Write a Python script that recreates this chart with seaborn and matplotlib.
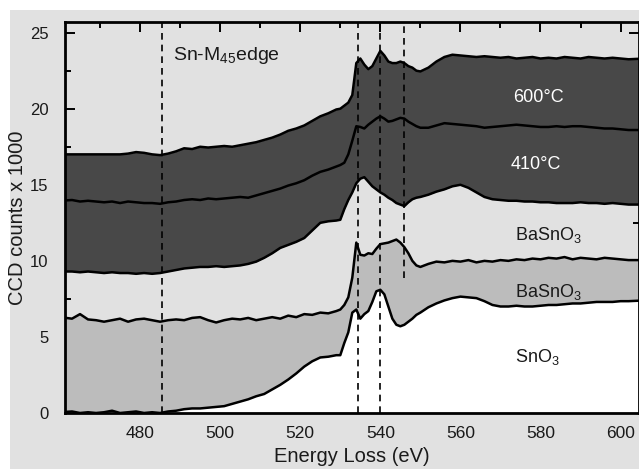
import matplotlib
matplotlib.use("Agg")
import matplotlib.pyplot as plt
import seaborn as sns
from matplotlib.patches import Rectangle
from matplotlib.ticker import MultipleLocator

# ---------------- data ----------------
energy = [460, 463, 465, 467, 469, 471, 473, 475, 477, 479, 481, 483, 485, 487, 489, 491,
          493, 495, 497, 499, 501, 503, 505, 507, 509, 511, 513, 515, 517, 519, 521, 523,
          525, 527, 529,
          530, 531, 532, 533, 534, 535, 536, 537, 538, 539, 540, 541, 542, 543, 544, 545,
          546, 547, 548, 549, 550,
          552, 554, 556, 558, 560, 562, 564, 566, 568, 570, 572, 574, 576, 578, 580, 582,
          584, 586, 588, 590, 592, 594, 596, 598, 600, 602, 606]

t600 = [17.0, 17.0, 17.0, 17.0, 17.0, 17.0, 17.0, 17.0, 17.05, 17.15, 17.1, 17.0, 16.95, 17.05,
        17.2, 17.4, 17.35, 17.5, 17.45, 17.5, 17.55, 17.5, 17.6, 17.7, 17.8, 17.95, 18.1, 18.3,
        18.55, 18.7, 18.9, 19.2, 19.5, 19.7, 19.95,
        20.0, 20.2, 20.4, 20.9, 23.0, 23.3, 22.9, 22.6, 22.8, 23.3, 23.8, 23.5, 23.1, 23.0,
        23.0, 23.1, 23.0, 22.8, 22.7, 22.5, 22.45,
        22.7, 23.1, 23.4, 23.55, 23.5, 23.45, 23.4, 23.45, 23.4, 23.35, 23.4, 23.3, 23.35,
        23.4, 23.3, 23.35, 23.3, 23.4, 23.35, 23.3, 23.4, 23.35, 23.3, 23.35, 23.3, 23.25, 23.3]

t410 = [13.95, 14.0, 13.9, 13.95, 13.9, 13.85, 13.9, 13.8, 13.9, 13.85, 13.8, 13.8, 13.75,
        13.85, 13.9, 14.0, 14.05, 14.0, 14.1, 14.05, 14.1, 14.15, 14.2, 14.15, 14.3, 14.45,
        14.6, 14.75, 14.95, 15.1, 15.3, 15.6, 15.85, 16.0, 16.2,
        16.3, 16.45, 17.0, 17.9, 18.85, 18.8, 18.7, 18.95, 19.15, 19.35, 19.5, 19.35, 19.15,
        19.2, 19.3, 19.4, 19.35, 19.15, 19.0, 18.85, 18.75,
        18.75, 18.9, 19.05, 19.0, 18.95, 18.9, 18.85, 18.75, 18.8, 18.85, 18.9, 18.95, 18.9,
        18.85, 18.8, 18.8, 18.85, 18.8, 18.85, 18.85, 18.8, 18.75, 18.7, 18.7, 18.65, 18.6, 18.6]

basno3_a = [9.3, 9.3, 9.25, 9.3, 9.25, 9.2, 9.25, 9.2, 9.2, 9.15, 9.2, 9.15, 9.2, 9.3, 9.4,
            9.5, 9.55, 9.6, 9.6, 9.65, 9.6, 9.65, 9.7, 9.8, 9.95, 10.2, 10.5, 10.85, 11.05,
            11.25, 11.5, 12.0, 12.5, 12.6, 12.65,
            12.7, 13.4, 14.0, 14.5, 15.1, 15.4, 15.5, 15.2, 14.9, 14.7, 14.5, 14.35, 14.15,
            14.0, 13.8, 13.7, 13.6, 13.85, 14.05, 14.15, 14.2,
            14.35, 14.55, 14.7, 14.9, 15.0, 14.8, 14.5, 14.2, 14.05, 14.0, 13.95, 13.95, 13.9,
            13.9, 13.85, 13.85, 13.8, 13.8, 13.8, 13.85, 13.8, 13.8, 13.75, 13.8, 13.75, 13.7, 13.7]

basno3_b = [6.3, 6.2, 6.5, 6.15, 6.1, 6.0, 6.1, 6.2, 6.0, 6.15, 6.2, 6.1, 6.0, 6.1, 6.15,
            6.1, 6.25, 6.3, 6.1, 5.95, 6.1, 6.2, 6.15, 6.25, 6.1, 6.2, 6.3, 6.2, 6.4, 6.3,
            6.5, 6.45, 6.6, 6.55, 6.7,
            6.8, 7.1, 7.6, 8.9, 11.2, 10.4, 10.35, 10.5, 10.45, 10.8, 11.1, 11.15, 11.2, 11.3,
            11.4, 11.2, 10.9, 10.5, 10.0, 9.7, 9.6,
            9.8, 9.95, 9.9, 10.0, 9.95, 10.05, 9.9, 10.0, 9.95, 10.05, 10.0, 10.1, 10.05, 10.15,
            10.1, 10.2, 10.15, 10.25, 10.1, 10.2, 10.15, 10.1, 10.2, 10.15, 10.1, 10.05, 10.05]

sno3 = [0.05, 0.1, 0.0, 0.05, 0.0, 0.05, 0.15, 0.0, 0.05, 0.1, 0.0, 0.05, 0.0, 0.1, 0.15,
        0.25, 0.3, 0.3, 0.35, 0.4, 0.45, 0.6, 0.75, 0.9, 1.1, 1.25, 1.55, 1.85, 2.2, 2.6,
        3.05, 3.4, 3.65, 3.7, 3.8,
        3.8, 4.6, 5.3, 6.6, 6.8, 6.2, 6.5, 6.7, 7.3, 8.0, 8.1, 7.8, 7.0, 6.2, 5.8, 5.7, 5.8,
        6.0, 6.2, 6.45, 6.6,
        6.95, 7.2, 7.4, 7.55, 7.65, 7.6, 7.55, 7.35, 7.1, 7.0, 7.0, 7.05, 7.0, 7.0, 7.05,
        7.1, 7.1, 7.15, 7.2, 7.2, 7.25, 7.3, 7.3, 7.3, 7.35, 7.35, 7.4]

edge_lines = [485.5, 534.4, 539.8]
short_edge = 546.0
short_edge_bottom = 8.9

labels = ["600°C", "410°C", "BaSnO$_3$", "BaSnO$_3$", "SnO$_3$"]
label_x = [579.6, 578.8, 582.0, 581.9, 579.2]
label_y = [20.41, 16.03, 11.34, 7.61, 3.38]
label_colors = ["white", "white", "#1a1a1a", "#1a1a1a", "#1a1a1a"]

xticks = [480, 500, 520, 540, 560, 580, 600]
yticks = [0, 5, 10, 15, 20, 25]

# ---------------- style ----------------
sns.set_theme(style="ticks")
plt.rcParams["font.family"] = ["Liberation Sans", "DejaVu Sans"]
plt.rcParams["mathtext.fontset"] = "custom"
plt.rcParams["mathtext.rm"] = "Liberation Sans"
plt.rcParams["mathtext.it"] = "Liberation Sans"

bg = "#e1e1e1"
dark = "#484848"
mid = "#bcbcbc"

fig = plt.figure(figsize=(6.39, 4.69), dpi=100)
fig.patch.set_facecolor("white")
fig.patches.append(Rectangle((10 / 639, 0), 1, 1 - 10 / 469, transform=fig.transFigure,
                             facecolor=bg, edgecolor="none", zorder=-10))

ax = fig.add_axes([65 / 639, 1 - 413 / 469, 1 - 65 / 639, (413 - 22) / 469])
ax.set_facecolor(bg)

# fills
ax.fill_between(energy, basno3_a, t600, color=dark, lw=0, zorder=1)
ax.fill_between(energy, sno3, basno3_b, color=mid, lw=0, zorder=1)
ax.fill_between(energy, 0, sno3, color="white", lw=0, zorder=1)

# curves
for series in [t600, t410, basno3_a, basno3_b, sno3]:
    sns.lineplot(x=energy, y=series, color="black", lw=1.8, ax=ax, zorder=3,
                 estimator=None, sort=False)

# dashed markers
for xe in edge_lines:
    ax.axvline(xe, color="black", lw=1.2, ls=(0, (4, 3)), zorder=4)
ax.vlines(short_edge, short_edge_bottom, 26, color="black", lw=1.2, ls=(0, (4, 3)), zorder=4)

# labels
for t, lx, ly, c in zip(labels, label_x, label_y, label_colors):
    ax.text(lx, ly, t, color=c, fontsize=13, ha="center", va="baseline", zorder=5)
ax.text(488.3, 23.18, "Sn-M$_{45}$edge", fontsize=14, ha="left", va="baseline",
        color="#1a1a1a", zorder=5)

ax.set_xlim(461.25, 604.6)
ax.set_ylim(0, 25.7)
ax.set_xticks(xticks)
ax.set_yticks(yticks)
ax.xaxis.set_minor_locator(MultipleLocator(10))
ax.yaxis.set_minor_locator(MultipleLocator(2.5))
ax.tick_params(which="both", direction="in", top=True, right=True, width=1.4,
               color="black", labelsize=12.5, labelcolor="#1a1a1a")
ax.tick_params(axis="y", labelsize=12)
ax.tick_params(which="major", length=7)
ax.tick_params(which="minor", length=4)
ax.tick_params(axis="y", pad=12)
ax.tick_params(axis="x", pad=9)
for s in ax.spines.values():
    s.set_linewidth(2)
    s.set_color("black")
    s.set_zorder(6)

ax.set_xlabel("Energy Loss (eV)", fontsize=14.5, color="#1a1a1a", labelpad=5)
ax.set_ylabel("CCD counts x 1000", fontsize=14.5, color="#1a1a1a")
ax.yaxis.set_label_coords(-0.066, 0.5)

fig.savefig("out.png", dpi=100, facecolor=fig.get_facecolor())
